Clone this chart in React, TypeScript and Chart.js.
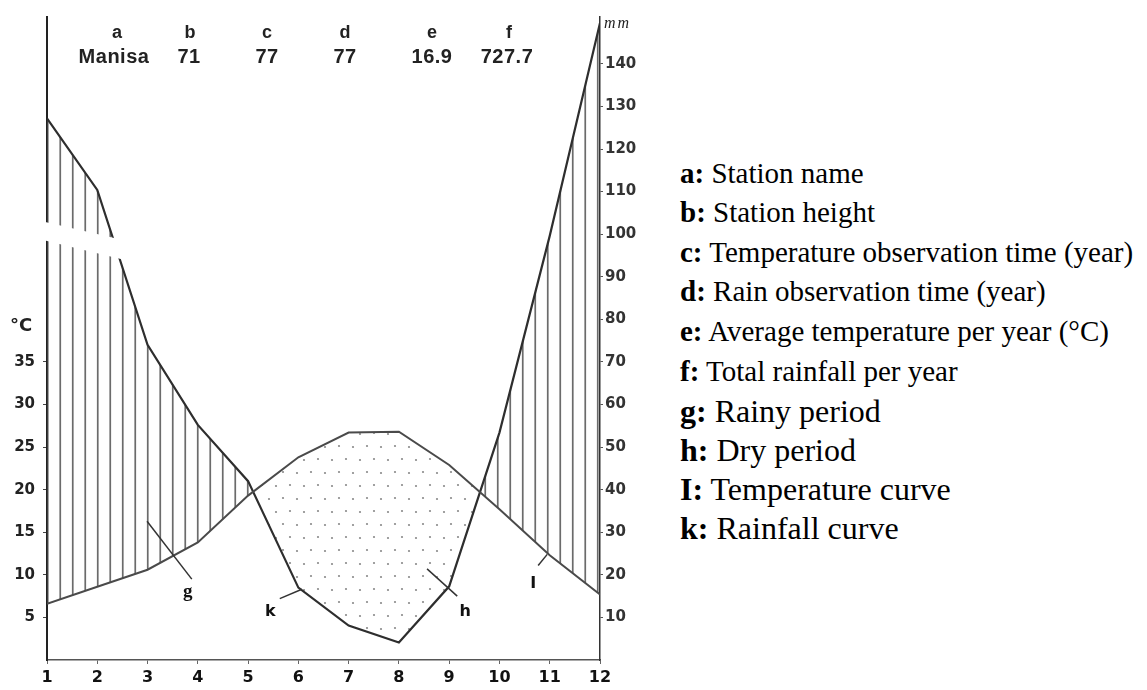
import React, { useEffect, useRef } from "react";
import { Chart, registerables } from "chart.js";

Chart.register(...registerables);

// ---- data ----
const months = [1, 2, 3, 4, 5, 6, 7, 8, 9, 10, 11, 12];
const temperatureC = [6.6, 8.6, 10.6, 13.8, 19.3, 23.8, 26.7, 26.8, 22.9, 17.7, 12.3, 7.7];
const rainfallMm = [127.2, 110.4, 74.0, 55.2, 42.0, 17.0, 8.1, 4.1, 17.3, 53.4, 99.6, 149.6];
const tempTickLabels = [5, 10, 15, 20, 25, 30, 35];
const rainTickLabels = [10, 20, 30, 40, 50, 60, 70, 80, 90, 100, 110, 120, 130, 140];
const headerKeys = ["a", "b", "c", "d", "e", "f"];
const headerValues = ["Manisa", "71", "77", "77", "16.9", "727.7"];
const legendKeys = ["a:", "b:", "c:", "d:", "e:", "f:", "g:", "h:", "I:", "k:"];
const legendTexts = [
  "Station name",
  "Station height",
  "Temperature observation time (year)",
  "Rain observation time (year)",
  "Average temperature per year (°C)",
  "Total rainfall per year",
  "Rainy period",
  "Dry period",
  "Temperature curve",
  "Rainfall curve",
];
// annotation letters (data units: month, °C) with leader lines
const annotationLetters = ["g", "k", "h", "I"];
const annotationLabelPos = [
  [3.8, 8.0],
  [5.44, 5.6],
  [9.32, 5.6],
  [10.67, 9.0],
];
const annotationLeaders = [
  [2.99, 16.3, 3.88, 9.5],
  [5.63, 7.2, 6.07, 8.3],
  [8.56, 10.7, 9.16, 7.5],
  [10.77, 11.1, 10.95, 12.4],
];

// ---- layout ----
const CANVAS_W = 650;
const CANVAS_H = 690;
const headerKeyX = [117, 190, 267, 345, 432, 509];
const headerValX = [114, 189, 267, 345, 432, 507];
const legendBaselines = [183, 222, 262, 301, 341, 381, 422, 461, 500, 539];
const legendSizes = [29, 29, 29, 29, 29, 29, 32, 32, 32, 32];

function makeHatch(ctx: CanvasRenderingContext2D) {
  const c = document.createElement("canvas");
  c.width = 25;
  c.height = 8;
  const g = c.getContext("2d")!;
  g.fillStyle = "rgba(70,70,70,0.8)";
  g.fillRect(9.4, 0, 1.7, 8);
  g.fillRect(21.9, 0, 1.7, 8);
  return ctx.createPattern(c, "repeat")!;
}

function makeDots(ctx: CanvasRenderingContext2D) {
  const c = document.createElement("canvas");
  c.width = 28;
  c.height = 26;
  const g = c.getContext("2d")!;
  g.fillStyle = "#8a8a8a";
  const pts = [
    [3, 4],
    [17, 5],
    [10, 17],
    [24, 18],
  ];
  for (const [x, y] of pts) {
    g.beginPath();
    g.arc(x, y, 1.1, 0, Math.PI * 2);
    g.fill();
  }
  return ctx.createPattern(c, "repeat")!;
}

const decorPlugin = {
  id: "decor",
  afterDraw(chart: any) {
    const ctx = chart.ctx as CanvasRenderingContext2D;
    const xs = chart.scales.x;
    const yT = chart.scales.yT;
    const yP = chart.scales.yP;
    ctx.save();
    // scale-break band across the left part
    ctx.fillStyle = "#ffffff";
    ctx.beginPath();
    ctx.moveTo(xs.getPixelForValue(0.065), yP.getPixelForValue(105.3));
    ctx.lineTo(xs.getPixelForValue(2.53), yP.getPixelForValue(98.6));
    ctx.lineTo(xs.getPixelForValue(2.53), yP.getPixelForValue(94.0));
    ctx.lineTo(xs.getPixelForValue(0.065), yP.getPixelForValue(101.1));
    ctx.closePath();
    ctx.fill();
    // leader lines
    ctx.strokeStyle = "#333";
    ctx.lineWidth = 1.5;
    for (const [x1, y1, x2, y2] of annotationLeaders) {
      ctx.beginPath();
      ctx.moveTo(xs.getPixelForValue(x1), yT.getPixelForValue(y1));
      ctx.lineTo(xs.getPixelForValue(x2), yT.getPixelForValue(y2));
      ctx.stroke();
    }
    ctx.fillStyle = "#111";
    ctx.textAlign = "center";
    ctx.textBaseline = "middle";
    annotationLetters.forEach((t, i) => {
      const [x, y] = annotationLabelPos[i];
      ctx.font = t === "g" ? 'bold 19px "Liberation Serif"' : 'bold 16px "DejaVu Sans"';
      ctx.fillText(t, xs.getPixelForValue(x), yT.getPixelForValue(y));
    });
    ctx.restore();
  },
};

export default function App() {
  const ref = useRef<HTMLCanvasElement>(null);

  useEffect(() => {
    const canvas = ref.current!;
    const ctx = canvas.getContext("2d")!;
    const hatch = makeHatch(ctx);
    const dots = makeDots(ctx);
    const tickFont = { family: "DejaVu Sans", weight: "bold" as const };

    const chart = new Chart(canvas, {
      type: "line",
      data: {
        datasets: [
          {
            label: "Temperature",
            data: months.map((m, i) => ({ x: m, y: temperatureC[i] })),
            yAxisID: "yT",
            borderColor: "#4a4a4a",
            borderWidth: 2,
            pointRadius: 0,
            tension: 0,
            fill: false,
          },
          {
            label: "Rainfall",
            data: months.map((m, i) => ({ x: m, y: rainfallMm[i] })),
            yAxisID: "yP",
            borderColor: "#2e2e2e",
            borderWidth: 2.2,
            pointRadius: 0,
            tension: 0,
            fill: { target: 0, above: hatch as any, below: dots as any },
          },
        ],
      },
      options: {
        responsive: false,
        animation: false,
        layout: { padding: { top: 3, left: 0, right: 0, bottom: 0 } },
        plugins: { legend: { display: false }, tooltip: { enabled: false } },
        scales: {
          x: {
            type: "linear",
            min: 1,
            max: 12,
            ticks: {
              stepSize: 1,
              autoSkip: false,
              maxRotation: 0,
              padding: 4,
              color: "#111",
              font: { ...tickFont, size: 16 },
            },
            grid: { display: true, drawOnChartArea: false, tickLength: 4, color: "#666" },
            border: { display: true, color: "#555", width: 1.5, dash: [7, 3] },
            afterFit: (s: any) => {
              s.height = 30;
            },
          },
          yT: {
            type: "linear",
            position: "left",
            min: 0,
            max: 75.5,
            ticks: {
              stepSize: 5,
              padding: 8,
              color: "#222",
              font: { ...tickFont, size: 15 },
              callback: (v: any) => (tempTickLabels.includes(Number(v)) ? String(v) : null),
            },
            grid: { display: true, drawOnChartArea: false, tickLength: 4, color: "#444" },
            border: { display: true, color: "#222", width: 2 },
            afterFit: (s: any) => {
              s.width = 47;
            },
          },
          yP: {
            type: "linear",
            position: "right",
            min: 0,
            max: 151,
            ticks: {
              stepSize: 10,
              padding: 2,
              color: "#333",
              font: { ...tickFont, size: 15 },
              callback: (v: any) => (rainTickLabels.includes(Number(v)) ? String(v) : null),
            },
            grid: { display: true, drawOnChartArea: false, tickLength: 3, color: "#555" },
            border: { display: true, color: "#333", width: 1.5 },
            afterFit: (s: any) => {
              s.width = 50;
            },
          },
        },
      },
      plugins: [decorPlugin],
    });
    return () => chart.destroy();
  }, []);

  const abs = (extra: React.CSSProperties): React.CSSProperties => ({ position: "absolute", whiteSpace: "nowrap", ...extra });

  return (
    <div style={{ position: "absolute", left: 0, top: 0, width: 1147, height: 690, background: "#fff", overflow: "hidden" }}>
      <canvas ref={ref} width={CANVAS_W} height={CANVAS_H} style={{ position: "absolute", left: 0, top: 0 }} />
      {headerKeys.map((k, i) => (
        <div
          key={"k" + i}
          style={abs({
            left: headerKeyX[i] - 50,
            width: 100,
            textAlign: "center",
            top: 38 - 18 * 0.8465,
            font: 'bold 18px "Liberation Sans", Arial, sans-serif',
            lineHeight: "18px",
            color: "#222",
          })}
        >
          {k}
        </div>
      ))}
      {headerValues.map((v, i) => (
        <div
          key={"v" + i}
          style={abs({
            left: headerValX[i] - 60,
            width: 120,
            textAlign: "center",
            top: 63 - 20 * 0.8465,
            font: 'bold 20px "Liberation Sans", Arial, sans-serif',
            lineHeight: "20px",
            letterSpacing: "0.5px",
            color: "#222",
          })}
        >
          {v}
        </div>
      ))}
      <div style={abs({ left: 10, top: 331 - 18 * 0.846, font: 'bold 18px "DejaVu Sans", sans-serif', lineHeight: "18px", color: "#222" })}>
        °C
      </div>
      <div
        style={abs({
          left: 604,
          top: 28 - 16 * 0.8375,
          font: 'italic 16px "Liberation Serif", serif',
          lineHeight: "16px",
          letterSpacing: "2px",
          color: "#222",
        })}
      >
        mm
      </div>
      {legendKeys.map((k, i) => (
        <div
          key={"l" + i}
          style={abs({
            left: 680,
            top: legendBaselines[i] - legendSizes[i] * 0.8375,
            fontFamily: '"Liberation Serif", "Times New Roman", serif',
            fontSize: legendSizes[i],
            lineHeight: legendSizes[i] + "px",
            color: "#000",
          })}
        >
          <b>{k}</b> {legendTexts[i]}
        </div>
      ))}
    </div>
  );
}
